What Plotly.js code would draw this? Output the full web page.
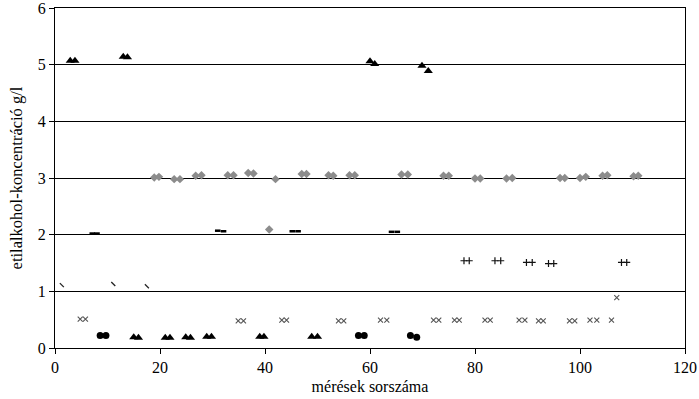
<!DOCTYPE html>
<html>
<head>
<meta charset="utf-8">
<script src="https://cdn.plot.ly/plotly-3.0.1.min.js"></script>
<style>html,body{margin:0;padding:0;background:#fff;}#chart{width:699px;height:399px;}</style>
</head>
<body>
<div id="chart"></div>
<script>
// Triangles (black)
const triX = [2.9, 3.8, 13.0, 13.8, 60.0, 60.9, 69.9, 71.1, 15.0, 15.9, 21.0, 21.9, 24.9, 25.8, 28.9, 29.8, 39.0, 39.8, 48.9, 50.0];
const triY = [5.07, 5.07, 5.14, 5.13, 5.06, 5.01, 4.98, 4.89, 0.19, 0.18, 0.18, 0.18, 0.19, 0.18, 0.2, 0.2, 0.2, 0.2, 0.2, 0.2];
// Diamonds (grey)
const diaX = [18.9, 19.8, 22.7, 23.8, 26.8, 27.9, 32.9, 34.0, 36.8, 37.8, 40.8, 42.0, 47.0, 47.9, 52.1, 53.0, 56.1, 57.1, 66.0, 67.2, 74.0, 75.0, 80.0, 81.0, 86.0, 87.1, 96.2, 97.1, 100.0, 101.1, 104.3, 105.2, 110.2, 111.1];
const diaY = [3.01, 3.02, 2.98, 2.98, 3.04, 3.05, 3.05, 3.05, 3.09, 3.08, 2.09, 2.98, 3.07, 3.07, 3.05, 3.04, 3.05, 3.05, 3.06, 3.06, 3.04, 3.04, 2.99, 2.99, 2.99, 3.0, 3.0, 3.0, 3.0, 3.02, 3.04, 3.05, 3.03, 3.04];
// Dashes (black)
const dashX = [7.1, 8.0, 31.0, 32.1, 45.2, 46.3, 64.1, 65.2];
const dashY = [2.02, 2.02, 2.07, 2.06, 2.06, 2.06, 2.05, 2.05];
// Plus signs
const plusX = [77.9, 78.9, 83.8, 84.9, 89.8, 90.9, 94.0, 95.0, 107.9, 108.9];
const plusY = [1.54, 1.54, 1.54, 1.54, 1.51, 1.51, 1.49, 1.49, 1.51, 1.51];
// Slashes
const slashX = [1.3, 11.1, 17.5];
const slashY = [1.11, 1.13, 1.09];
// X marks
const crossX = [4.8, 5.8, 34.9, 35.9, 43.2, 44.1, 54.0, 55.0, 62.0, 63.2, 72.1, 73.1, 76.1, 77.0, 81.9, 82.9, 88.4, 89.5, 92.1, 93.0, 98.0, 99.0, 101.9, 103.2, 106.0, 107.0];
const crossY = [0.51, 0.51, 0.48, 0.48, 0.49, 0.49, 0.48, 0.48, 0.49, 0.49, 0.49, 0.49, 0.49, 0.49, 0.49, 0.49, 0.49, 0.49, 0.48, 0.48, 0.48, 0.48, 0.49, 0.49, 0.49, 0.89];
// Circles (black)
const circX = [8.6, 9.7, 57.8, 58.9, 67.7, 68.9];
const circY = [0.22, 0.22, 0.22, 0.22, 0.22, 0.19];

const xTicks = [0, 20, 40, 60, 80, 100, 120];
const yTicks = [0, 1, 2, 3, 4, 5, 6];

function sc(x, y, marker) {
  return {x: x, y: y, type: 'scatter', mode: 'markers', marker: marker, hoverinfo: 'skip', cliponaxis: false};
}

const data = [
  sc(diaX, diaY, {symbol: 'diamond', size: 6.5, color: '#8c8c8c'}),
  sc(dashX, dashY, {symbol: 'line-ew', size: 4, line: {color: '#000', width: 2.5}}),
  sc(plusX, plusY, {symbol: 'cross-thin', size: 5, line: {color: '#111', width: 1.2}}),
  sc(slashX, slashY, {symbol: 'line-nw', size: 4, line: {color: '#222', width: 1.3}}),
  sc(crossX, crossY, {symbol: 'x-thin', size: 5, line: {color: '#555', width: 1.1}}),
  sc(circX, circY, {symbol: 'circle', size: 7, color: '#000'}),
  sc(triX, triY, {symbol: 'triangle-up', size: 8, color: '#000'})
];

const font = {family: '"Liberation Serif", "Times New Roman", serif', color: '#000'};

const layout = {
  width: 699, height: 399,
  margin: {l: 55, r: 14, t: 8, b: 51},
  paper_bgcolor: '#fff', plot_bgcolor: '#fff',
  showlegend: false,
  font: font,
  xaxis: {
    range: [0, 120], tickvals: xTicks, ticktext: xTicks.map(String),
    showgrid: false, zeroline: false,
    showline: true, linecolor: '#000', linewidth: 1, mirror: true,
    ticks: 'outside', ticklen: 5, tickcolor: '#000',
    ticklabeloverflow: 'allow',
    tickfont: {family: font.family, size: 16, color: '#000'},
    title: {text: 'mérések sorszáma', font: {family: font.family, size: 16, color: '#000'}, standoff: 5}
  },
  yaxis: {
    range: [0, 6], tickvals: yTicks, ticktext: yTicks.map(String),
    showgrid: true, gridcolor: '#000', gridwidth: 1, zeroline: false,
    showline: true, linecolor: '#000', linewidth: 1, mirror: true,
    ticks: 'outside', ticklen: 5, tickcolor: '#000',
    ticklabeloverflow: 'allow',
    tickfont: {family: font.family, size: 16, color: '#000'},
    title: {text: 'etilalkohol-koncentráció g/l', font: {family: font.family, size: 16.5, color: '#000'}, standoff: 11}
  }
};

Plotly.newPlot('chart', data, layout, {displayModeBar: false, staticPlot: true});
</script>
</body>
</html>
